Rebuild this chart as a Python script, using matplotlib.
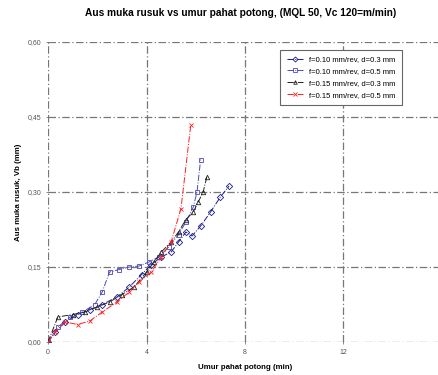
import matplotlib
matplotlib.use("Agg")
import matplotlib.pyplot as plt

plt.rcParams['font.family'] = ['Liberation Sans', 'DejaVu Sans']

# f=0.10 mm/rev, d=0.3 mm
t1 = [0, 0.3, 0.7, 1.2, 1.7, 2.2, 2.8, 3.3, 3.8, 4.2, 4.6, 5.0, 5.3, 5.6, 5.85, 6.2, 6.6, 7.0, 7.35]
vb1 = [0, 0.02, 0.04, 0.055, 0.065, 0.075, 0.09, 0.11, 0.135, 0.155, 0.17, 0.18, 0.20, 0.22, 0.212, 0.232, 0.26, 0.29, 0.312]

# f=0.10 mm/rev, d=0.5 mm
t2 = [0, 0.4, 0.9, 1.4, 1.9, 2.2, 2.5, 2.9, 3.3, 3.7, 4.1, 4.5, 4.9, 5.3, 5.6, 5.9, 6.05, 6.2]
vb2 = [0, 0.03, 0.05, 0.06, 0.075, 0.10, 0.14, 0.145, 0.15, 0.152, 0.16, 0.17, 0.19, 0.215, 0.24, 0.27, 0.30, 0.365]

# f=0.15 mm/rev, d=0.3 mm
t3 = [0, 0.4, 1.0, 1.5, 2.0, 2.5, 3.0, 3.5, 4.0, 4.3, 4.6, 5.0, 5.3, 5.6, 5.9, 6.1, 6.3, 6.45]
vb3 = [0, 0.05, 0.055, 0.06, 0.07, 0.08, 0.095, 0.11, 0.14, 0.16, 0.18, 0.20, 0.22, 0.245, 0.26, 0.28, 0.30, 0.33]

# f=0.15 mm/rev, d=0.5 mm
t4 = [0, 0.3, 0.7, 1.2, 1.7, 2.2, 2.8, 3.3, 3.7, 4.2, 4.6, 5.0, 5.4, 5.8]
vb4 = [0, 0.02, 0.04, 0.035, 0.042, 0.06, 0.08, 0.10, 0.12, 0.14, 0.17, 0.20, 0.267, 0.435]

series = [
    ('f=0.10 mm/rev, d=0.3 mm', t1, vb1, '#1a1a8c', 'D'),
    ('f=0.10 mm/rev, d=0.5 mm', t2, vb2, '#4a4ab8', 's'),
    ('f=0.15 mm/rev, d=0.3 mm', t3, vb3, '#222222', '^'),
    ('f=0.15 mm/rev, d=0.5 mm', t4, vb4, '#ff2020', 'x'),
]

fig = plt.figure(figsize=(4.38, 3.75), dpi=100)
# axes run a bit past the right edge, like the cropped original
ax = fig.add_axes([48 / 438, 1 - 342 / 375, 394 / 438, 300 / 375])

for label, t, vb, color, mk in series:
    ax.plot(t, vb, color=color, linestyle='-.', linewidth=0.7, marker=mk,
            markersize=3.2, markerfacecolor='none', markeredgewidth=0.6, label=label)

ax.set_xlim(0, 16)
ax.set_ylim(0, 0.6)
ax.set_xticks([0, 4, 8, 12])
ax.set_yticks([0, 0.15, 0.30, 0.45, 0.60])
ax.set_yticklabels(['0,00', '0,15', '0,30', '0,45', '0,60'])
ax.tick_params(labelsize=5, colors='#777777', labelcolor='#555555', length=3,
               direction='inout', width=0.6)
for s in ax.spines.values():
    s.set_visible(False)
ax.grid(True, color='#777777', linestyle=(0, (6, 2, 1, 2)), linewidth=0.9)
ax.set_axisbelow(True)

ax.set_title('Aus muka rusuk vs umur pahat potong, (MQL 50, Vc 120=m/min)',
             fontsize=7.3, fontweight='bold', x=0.49, pad=19)
ax.set_xlabel('Umur pahat potong (min)', fontsize=5.7, fontweight='bold', labelpad=6)
ax.set_ylabel('Aus muka rusuk, Vb (mm)', fontsize=5.7, fontweight='bold', labelpad=4)

leg = ax.legend(loc='upper right', bbox_to_anchor=(0.908, 0.987), fontsize=5.5,
                fancybox=False, edgecolor='#666666', framealpha=1,
                borderpad=0.8, labelspacing=0.6, handlelength=2.2, markerscale=0.8)
leg.get_frame().set_linewidth(0.8)

fig.savefig('out.png', dpi=100)
